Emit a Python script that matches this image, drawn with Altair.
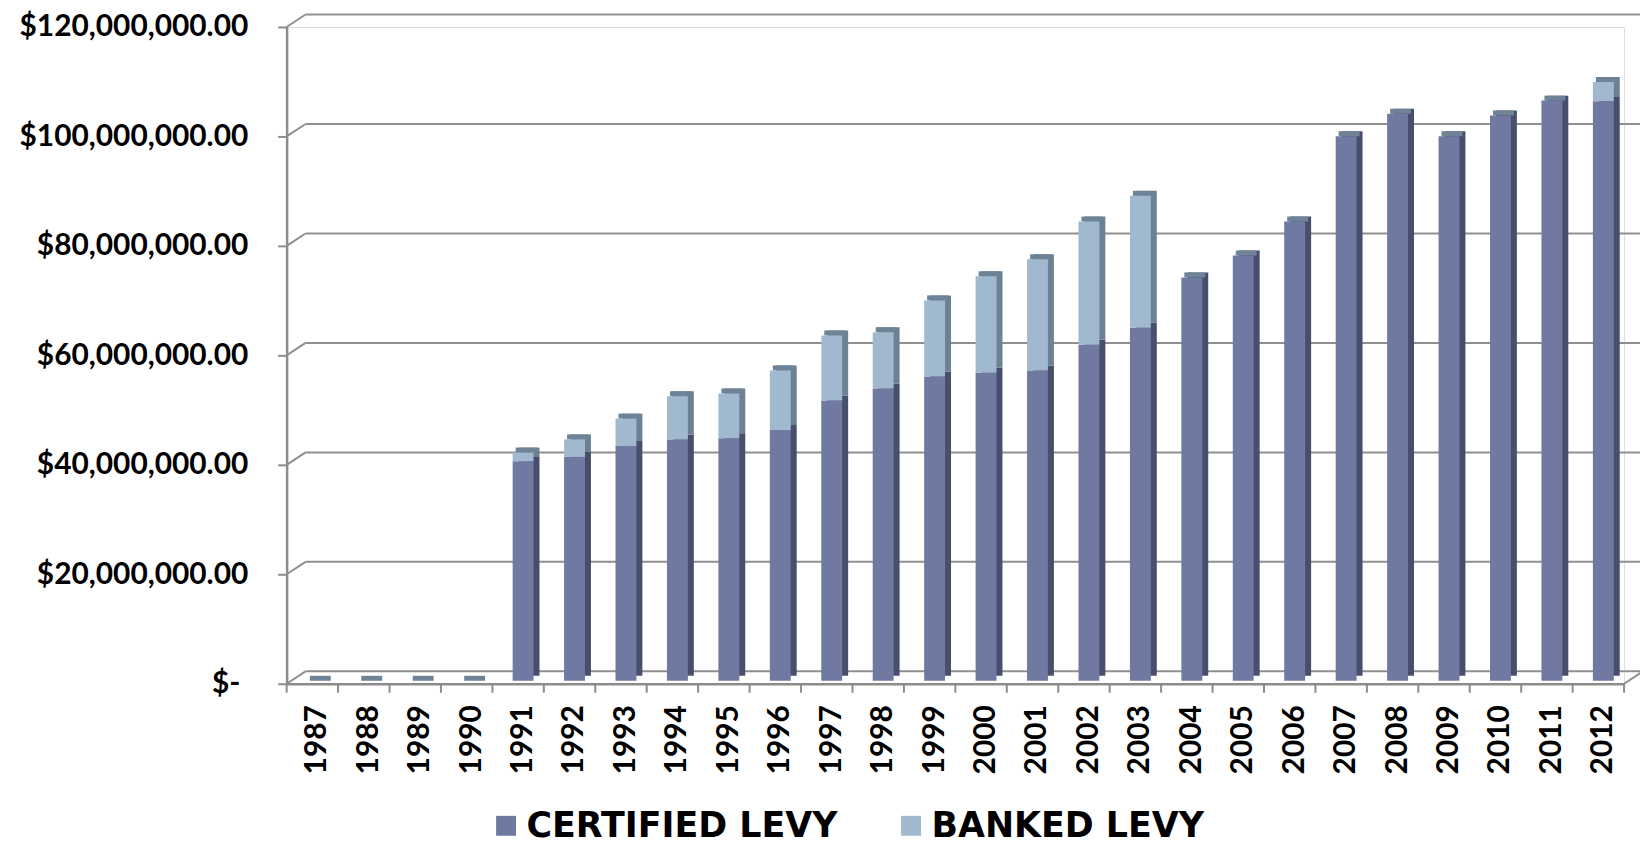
import altair as alt
import pandas as pd

years = [str(y) for y in range(1987, 2013)]
certified = [0, 0, 0, 0, 40.1, 40.9, 42.9, 44.1, 44.3, 45.8, 51.2, 53.4, 55.6, 56.3,
             56.7, 61.4, 64.5, 73.7, 77.7, 83.9, 99.5, 103.6, 99.5, 103.3, 106.0, 105.9]
banked = [0, 0, 0, 0, 1.6, 3.2, 5.0, 7.9, 8.2, 10.9, 11.9, 10.3, 13.9, 17.6,
          20.3, 22.5, 24.1, 0, 0, 0, 0, 0, 0, 0, 0, 3.5]
series_names = ["CERTIFIED LEVY", "BANKED LEVY"]
grid_values = [0, 20, 40, 60, 80, 100, 120]

M = 1_000_000
rows = []
for i, y in enumerate(years):
    rows.append({"year": y, "series": series_names[0], "ord": 0, "value": certified[i] * M})
    rows.append({"year": y, "series": series_names[1], "ord": 1, "value": banked[i] * M})
df = pd.DataFrame(rows)
tot = pd.DataFrame({"year": years, "total": [(c + b) * M for c, b in zip(certified, banked)]})
grid = pd.DataFrame({"g": [v * M for v in grid_values]})

W, H = 1344, 660
FONT = "Lato"
B = -3          # bars sit slightly behind the front plane
DX, DY = 19, -12.5  # back-wall offset

xscale = alt.Scale(paddingInner=0, paddingOuter=0)
yscale = alt.Scale(domain=[0, 120 * M], nice=False, zero=True)

yaxis = alt.Axis(
    title=None, grid=False, tickSize=9, tickColor="#8c8c8c", tickWidth=2,
    domainColor="#8c8c8c", domainWidth=2.5, labelFont=FONT, labelFontSize=30,
    labelFontWeight="bold", labelColor="black",
    labelPadding=alt.condition("datum.value == 0", alt.value(38), alt.value(30)),
    labelLimit=0,
    values=[v * M for v in grid_values],
    labelExpr="datum.value == 0 ? '$-' : format(datum.value, '$,.2f')",
)
xaxis = alt.Axis(
    title=None, ticks=False, domainColor="#8c8c8c", domainWidth=2.5,
    labelFont=FONT, labelFontSize=30, labelFontWeight="bold", labelColor="black",
    labelAngle=270, labelPadding=21, labelOffset=5,
)

X = alt.X("year:O", scale=xscale, axis=xaxis, sort=years)
Yv = alt.Y("value:Q", scale=yscale, axis=yaxis, stack="zero")

# back-wall gridlines
grid_h = alt.Chart(grid).mark_rule(color="#8f8f8f", strokeWidth=2,
                                   xOffset=DX, x2Offset=DX, yOffset=DY, y2Offset=DY).encode(
    y=alt.Y("g:Q", scale=yscale, axis=yaxis), x=alt.value(0), x2=alt.value(W))
grid_d = alt.Chart(grid).mark_rule(color="#8f8f8f", strokeWidth=2, y2Offset=DY).encode(
    y=alt.Y("g:Q", scale=yscale, axis=yaxis), y2="g:Q", x=alt.value(0), x2=alt.value(DX))
floor_r = alt.Chart(grid).transform_filter(alt.datum.g == 0).mark_rule(
    color="#8f8f8f", strokeWidth=2, y2Offset=DY).encode(
    y=alt.Y("g:Q", scale=yscale, axis=yaxis), y2="g:Q", x=alt.value(W), x2=alt.value(W + DX))

# x ticks at band edges
xticks = alt.Chart(tot).mark_rule(color="#8c8c8c", strokeWidth=2, xOffset=-W / 52).encode(
    x=X, y=alt.value(H), y2=alt.value(H + 9))
xtick_end = alt.Chart(grid).transform_filter(alt.datum.g == 0).mark_rule(
    color="#8c8c8c", strokeWidth=2).encode(x=alt.value(W), y=alt.value(H), y2=alt.value(H + 9))

# depth (side) faces
side = alt.Chart(df).mark_bar(width=21, xOffset=11, yOffset=B - 5, y2Offset=B - 5).encode(
    x=X, y=Yv, order=alt.Order("ord:Q"),
    color=alt.condition(alt.datum.series == series_names[0],
                        alt.value("#484f6d"), alt.value("#6c8192")))
# top caps
cap = alt.Chart(tot).mark_bar(width=21, xOffset=8, yOffset=B - 5, y2Offset=B,
                              color="#6e8396").encode(
    x=X, y=alt.Y("total:Q", scale=yscale, axis=yaxis), y2="total:Q")
# front faces
front = alt.Chart(df).mark_bar(width=21, xOffset=5, yOffset=B, y2Offset=B).encode(
    x=X, y=Yv, order=alt.Order("ord:Q"),
    color=alt.Color("series:N", sort=series_names,
                    scale=alt.Scale(domain=series_names, range=["#6f79a1", "#a0b9cf"]),
                    legend=alt.Legend(title=None, orient="none", direction="horizontal",
                                      legendX=203, legendY=785, symbolType="square",
                                      symbolSize=400, symbolStrokeWidth=0, symbolOpacity=1,
                                      labelFont="DejaVu Sans", labelFontSize=35,
                                      labelFontWeight="bold",
                                      labelColor="black", columnPadding=56, labelOffset=3,
                                      labelLimit=0)))

chart = alt.layer(grid_h, grid_d, floor_r, xticks, xtick_end, side, cap, front).properties(
    width=W, height=H,
    autosize=alt.AutoSizeParams(type="none"),
    padding={"left": 280, "top": 17, "right": 16, "bottom": 166},
).configure_view(stroke=None).configure(background="white")

chart.save("out.html", embed_options={"renderer": "svg", "actions": False})
